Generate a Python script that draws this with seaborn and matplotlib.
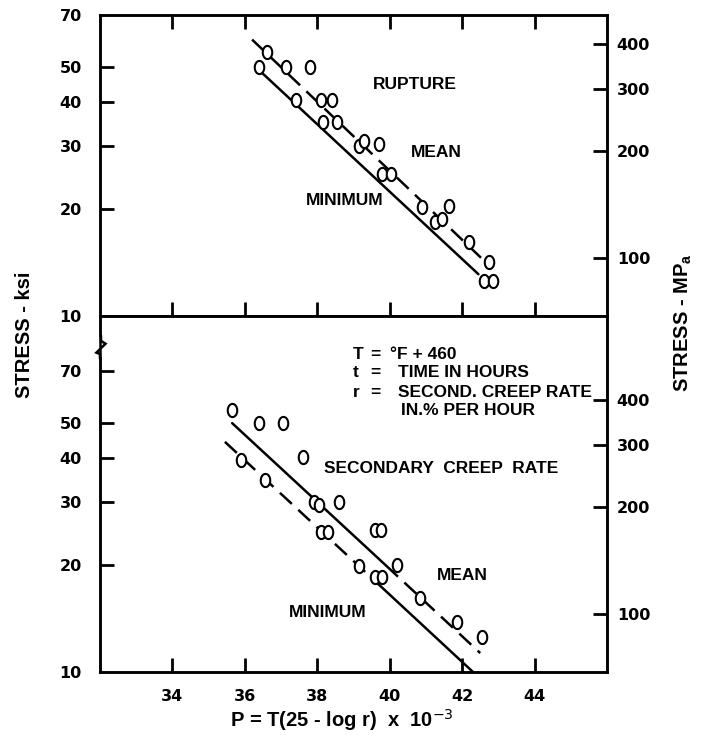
import numpy as np
import pandas as pd
import matplotlib
matplotlib.use("Agg")
import matplotlib.pyplot as plt
from matplotlib.path import Path
from matplotlib.ticker import NullLocator
from matplotlib.transforms import blended_transform_factory
import seaborn as sns

# Parameter P = T(25 - log r) x 10^-3 and stress in ksi
rupture_p = [36.6, 36.4, 37.15, 37.8, 37.4, 38.1, 38.4, 38.15, 38.55, 39.15, 39.3,
             39.7, 39.8, 40.05, 40.9, 41.25, 41.45, 41.65, 42.2, 42.75, 42.6, 42.85]
rupture_ksi = [55, 50, 50, 50, 40.5, 40.5, 40.5, 35, 35, 30, 31,
               30.3, 25, 25, 20.2, 18.3, 18.7, 20.3, 16.1, 14.2, 12.5, 12.5]

rupture_mean_p = [36.2, 42.7]
rupture_mean_ksi = [59.7, 14.0]
rupture_min_p = [36.3, 42.45]
rupture_min_ksi = [50.0, 13.1]

creep_p = [35.65, 36.4, 37.05, 37.6, 35.9, 36.55, 37.9, 38.05, 38.6, 38.1,
           38.3, 39.15, 39.6, 39.75, 39.6, 39.8, 40.2, 40.85, 41.85, 42.55]
creep_ksi = [54.5, 50, 50, 40.2, 39.5, 34.6, 30, 29.5, 30, 24.7,
             24.7, 19.8, 25, 25, 18.5, 18.5, 20, 16.1, 13.8, 12.5]

# creep-rate lines change style part way along
creep_mean_p = [35.65, 39.9, 42.5]
creep_mean_ksi = [50.0, 19.9, 11.3]
creep_mean_styles = ["-", "--"]
creep_min_p = [35.45, 39.7, 42.3]
creep_min_ksi = [44.3, 17.6, 10.0]
creep_min_styles = ["--", "-"]

p_ticks = [34, 36, 38, 40, 42, 44]
ksi_ticks = [10, 20, 30, 40, 50, 70]
mpa_ticks = [100, 200, 300, 400]
KSI_TO_MPA = 6.895

sns.set_theme(style="ticks")
plt.rcParams.update({
    "font.family": ["Liberation Sans", "DejaVu Sans"],
    "text.color": "black",
    "axes.labelcolor": "black",
    "axes.edgecolor": "black",
    "xtick.color": "black",
    "ytick.color": "black",
})

TICK_FONT = dict(family="DejaVu Sans", weight="bold", size=11.5)
TEXT_FONT = dict(family="Liberation Sans", weight="bold", size=12.5)
LABEL_FONT = dict(family="Liberation Sans", weight="bold", size=14.5)
DASH = (6.5, 3.5)
TICK_LEN_PX = 14
TICK_LW = 2.0

theta = np.linspace(0, 2 * np.pi, 64)
ring = Path(np.column_stack([0.72 * np.cos(theta), np.sin(theta)]), closed=True)

fig = plt.figure(figsize=(7.11, 7.36), dpi=100)
fig.patch.set_facecolor("white")


def make_panel(rect):
    ax = fig.add_axes(rect)
    tw = ax.twinx()
    return ax, tw


def draw_points(ax, p, ksi):
    df = pd.DataFrame({"P": p, "ksi": ksi})
    sns.scatterplot(data=df, x="P", y="ksi", ax=ax, marker=ring, s=90,
                    facecolor="white", edgecolor="black", linewidth=1.5,
                    zorder=3, legend=False)


def draw_line(ax, p, ksi, styles):
    for i, ls in enumerate(styles):
        seg = pd.DataFrame({"P": p[i:i + 2], "ksi": ksi[i:i + 2]})
        sns.lineplot(data=seg, x="P", y="ksi", ax=ax, color="black", lw=1.8,
                     sort=False, estimator=None, zorder=2)
        if ls == "--":
            ax.lines[-1].set_dashes(DASH)


def finish_panel(ax, tw, ylim, top_ticks, show_x_labels):
    ax.set_yscale("log")
    ax.set_xlim(32, 46)
    ax.set_ylim(*ylim)
    ax.set_xlabel("")
    ax.set_ylabel("")
    ax.grid(False)
    ax.set_xticks(p_ticks)
    if show_x_labels:
        ax.set_xticklabels([str(t) for t in p_ticks], fontdict=TICK_FONT)
    else:
        ax.set_xticklabels([])
    ax.set_yticks(ksi_ticks)
    ax.set_yticklabels([str(t) for t in ksi_ticks], fontdict=TICK_FONT)
    ax.xaxis.set_minor_locator(NullLocator())
    ax.yaxis.set_minor_locator(NullLocator())
    ax.tick_params(axis="x", direction="in", length=0, pad=12,
                   bottom=True, top=False)
    ax.tick_params(axis="y", direction="in", length=0, pad=13,
                   left=True, right=False)

    tw.set_yscale("log")
    tw.set_ylim(ylim[0] * KSI_TO_MPA, ylim[1] * KSI_TO_MPA)
    tw.set_yticks(mpa_ticks)
    tw.set_yticklabels([str(t) for t in mpa_ticks], fontdict=TICK_FONT)
    tw.yaxis.set_minor_locator(NullLocator())
    tw.tick_params(axis="y", direction="in", length=0, pad=7,
                   left=False, right=True)
    tw.grid(False)
    for a in (ax, tw):
        for s in a.spines.values():
            s.set_linewidth(1.8)
            s.set_color("black")

    # inward tick marks, sized in pixels
    pos = ax.get_position()
    w_px = pos.width * fig.get_figwidth() * fig.dpi
    h_px = pos.height * fig.get_figheight() * fig.dpi
    fx = TICK_LEN_PX / w_px
    fy = TICK_LEN_PX / h_px
    kw = dict(color="black", lw=TICK_LW, solid_capstyle="butt",
              clip_on=False, zorder=4)
    xt = blended_transform_factory(ax.transData, ax.transAxes)
    for x in p_ticks:
        ax.plot([x, x], [0, fy], transform=xt, **kw)
        if top_ticks:
            ax.plot([x, x], [1 - fy, 1], transform=xt, **kw)
    yt = blended_transform_factory(ax.transAxes, ax.transData)
    for y in ksi_ticks:
        if ylim[0] < y < ylim[1]:
            ax.plot([0, fx], [y, y], transform=yt, **kw)
    rt = blended_transform_factory(tw.transAxes, tw.transData)
    for m in mpa_ticks:
        tw.plot([1 - fx, 1], [m, m], transform=rt, **kw)


ax_top, tw_top = make_panel([0.1406, 0.5707, 0.7131, 0.4090])
ax_bot, tw_bot = make_panel([0.1406, 0.0870, 0.7131, 0.4837])

# upper panel: rupture
draw_line(ax_top, rupture_mean_p, rupture_mean_ksi, ["--"])
draw_line(ax_top, rupture_min_p, rupture_min_ksi, ["-"])
draw_points(ax_top, rupture_p, rupture_ksi)
ax_top.text(40.7, 44.7, "RUPTURE", ha="center", va="center", **TEXT_FONT)
ax_top.text(41.3, 28.8, "MEAN", ha="center", va="center", **TEXT_FONT)
ax_top.text(38.76, 21.1, "MINIMUM", ha="center", va="center", **TEXT_FONT)

# lower panel: secondary creep rate
draw_line(ax_bot, creep_mean_p, creep_mean_ksi, creep_mean_styles)
draw_line(ax_bot, creep_min_p, creep_min_ksi, creep_min_styles)
draw_points(ax_bot, creep_p, creep_ksi)
ax_bot.text(41.43, 37.4, "SECONDARY  CREEP  RATE", ha="center", va="center", **TEXT_FONT)
ax_bot.text(42.0, 18.7, "MEAN", ha="center", va="center", **TEXT_FONT)
ax_bot.text(38.3, 14.7, "MINIMUM", ha="center", va="center", **TEXT_FONT)

key_rows = [("T", "°F + 460", 77.7, 40.0),
            ("t", "TIME IN HOURS", 69.2, 40.22),
            ("r", "SECOND. CREEP RATE", 60.8, 40.22)]
for sym, desc, y, xd in key_rows:
    ax_bot.text(38.98, y, sym, ha="left", va="center", **TEXT_FONT)
    ax_bot.text(39.45, y, "=", ha="left", va="center", **TEXT_FONT)
    ax_bot.text(xd, y, desc, ha="left", va="center", **TEXT_FONT)
ax_bot.text(40.3, 54.1, "IN.% PER HOUR", ha="left", va="center", **TEXT_FONT)

finish_panel(ax_top, tw_top, (10, 70), True, False)
finish_panel(ax_bot, tw_bot, (10, 100), False, True)

# break symbol on the left axis of the lower panel
ax_bot.plot([0, 0], [0.94, 0.885], transform=ax_bot.transAxes, color="white",
            lw=4, clip_on=False, zorder=5, solid_capstyle="butt")
ax_bot.plot([0.002, 0.002, 0.011, -0.007, 0.0, 0.0],
            [0.945, 0.93, 0.922, 0.897, 0.893, 0.88],
            transform=ax_bot.transAxes, color="black", lw=1.8,
            clip_on=False, zorder=6, solid_joinstyle="miter")

ax_bot.set_xlabel(r"P = T(25 - log r)  x  10$^{-3}$", va="center", **LABEL_FONT)
ax_bot.xaxis.set_label_coords(0.477, -0.135)

fig.text(25 / 711, 1 - 335 / 736, "STRESS - ksi", rotation=90,
         ha="center", va="center", **LABEL_FONT)
fig.text(683 / 711, 1 - 323 / 736, r"STRESS - MP$_{\mathregular{a}}$", rotation=90,
         ha="center", va="center", **LABEL_FONT)

fig.savefig("out.png", dpi=100, facecolor="white")
